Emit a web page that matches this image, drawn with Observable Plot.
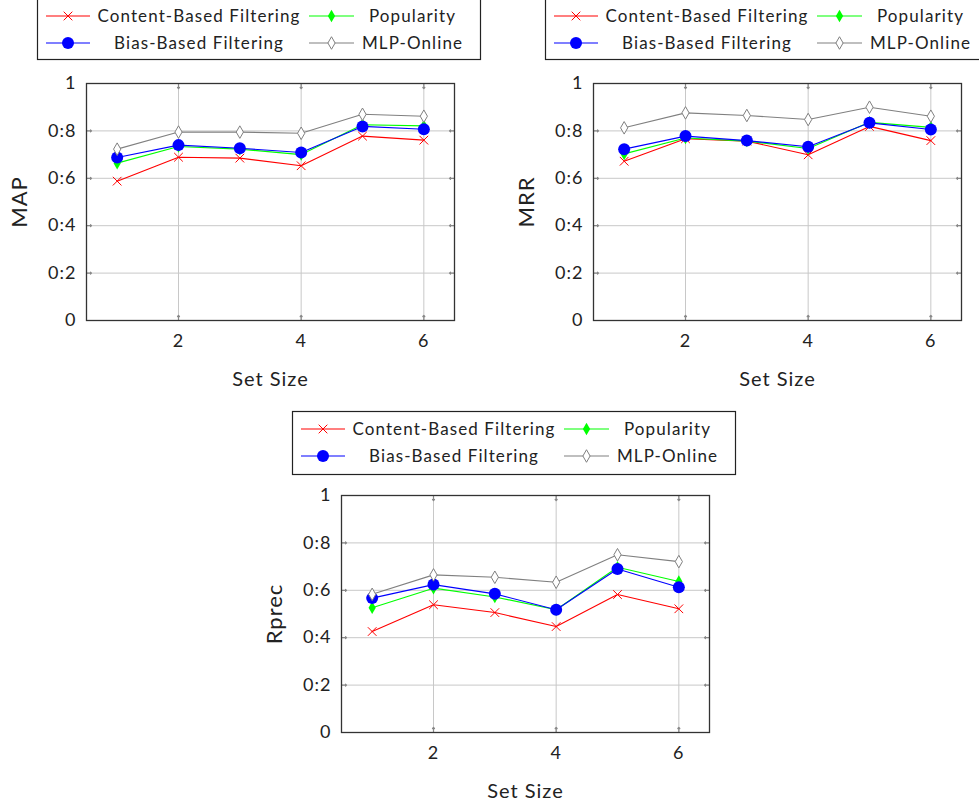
<!DOCTYPE html>
<html>
<head>
<meta charset="utf-8">
<script src="https://cdn.jsdelivr.net/npm/d3@7"></script>
<script src="https://cdn.jsdelivr.net/npm/@observablehq/plot@0.6"></script>
<style>
  html, body { margin: 0; padding: 0; background: #fff; }
  #root { position: relative; width: 979px; height: 807px; overflow: hidden; background: #fff; }
  .panel, .legend { position: absolute; }
</style>
</head>
<body>
<div id="root"></div>
<script>
// ---------- data ----------
const setSizes = [1, 2, 3, 4, 5, 6];
const seriesNames = ["Content-Based Filtering", "Popularity", "Bias-Based Filtering", "MLP-Online"];
const seriesColors = ["#ff0000", "#00ff00", "#0000ff", "#808080"];

const mapCBF  = [0.588, 0.689, 0.685, 0.653, 0.778, 0.761];
const mapPop  = [0.664, 0.734, 0.723, 0.700, 0.826, 0.821];
const mapBias = [0.688, 0.740, 0.727, 0.709, 0.819, 0.807];
const mapMLP  = [0.723, 0.795, 0.795, 0.790, 0.870, 0.862];

const mrrCBF  = [0.672, 0.767, 0.757, 0.699, 0.819, 0.759];
const mrrPop  = [0.703, 0.770, 0.757, 0.726, 0.836, 0.815];
const mrrBias = [0.723, 0.778, 0.759, 0.733, 0.834, 0.806];
const mrrMLP  = [0.813, 0.876, 0.865, 0.848, 0.900, 0.862];

const rprecCBF  = [0.426, 0.539, 0.506, 0.447, 0.582, 0.522];
const rprecPop  = [0.526, 0.609, 0.572, 0.518, 0.697, 0.637];
const rprecBias = [0.567, 0.624, 0.585, 0.518, 0.690, 0.613];
const rprecMLP  = [0.583, 0.665, 0.655, 0.634, 0.750, 0.721];

const xTicks = [2, 4, 6];
const yTicks = [0, 0.2, 0.4, 0.6, 0.8, 1];
const yTickLabels = ["0", "0:2", "0:4", "0:6", "0:8", "1"];
const xLabel = "Set Size";

// ---------- style ----------
const FONT = "Lato, 'Open Sans', sans-serif";
const symbols = ["times", "diamond", "circle", "diamond"];
const symbolR = [4, 3.8, 6, 3.8];
const symbolFill = ["none", seriesColors[1], seriesColors[2], "white"];
const symbolStroke = [seriesColors[0], seriesColors[1], seriesColors[2], seriesColors[3]];

const root = document.getElementById("root");

function makePanel({left, top, width, height, mL, mR, mT, mB, yLabel, values}) {
  const rows = [];
  values.forEach((arr, s) => arr.forEach((v, i) => rows.push({series: seriesNames[s], s, x: setSizes[i], y: v})));
  const marks = [
    Plot.gridX(xTicks, {stroke: "#c8c8c8", strokeOpacity: 1, strokeWidth: 1}),
    Plot.gridY(yTicks.slice(1, -1), {stroke: "#c8c8c8", strokeOpacity: 1, strokeWidth: 1}),
    // inward tick marks on all four sides
    Plot.vector(xTicks, {x: d => d, frameAnchor: "bottom", length: 5, anchor: "start", rotate: 0, stroke: "#888", strokeWidth: 1.2}),
    Plot.vector(xTicks, {x: d => d, frameAnchor: "top", length: 5, anchor: "start", rotate: 180, stroke: "#888", strokeWidth: 1.2}),
    Plot.vector(yTicks.slice(1, -1), {y: d => d, frameAnchor: "left", length: 5, anchor: "start", rotate: 90, stroke: "#888", strokeWidth: 1.2}),
    Plot.vector(yTicks.slice(1, -1), {y: d => d, frameAnchor: "right", length: 5, anchor: "start", rotate: -90, stroke: "#888", strokeWidth: 1.2}),
    Plot.frame({stroke: "#333", strokeWidth: 1.3}),
    Plot.axisX(xTicks, {anchor: "bottom", tickSize: 0, tickPadding: 14, label: null, fontSize: 18, fill: "#222"}),
    Plot.axisY(yTicks, {anchor: "left", tickSize: 0, tickPadding: 10, label: null, fontSize: 18, fill: "#222",
      tickFormat: d => yTickLabels[yTicks.indexOf(d)]}),
    Plot.text([yLabel], {frameAnchor: "left", textAnchor: "middle", lineAnchor: "middle", rotate: -90, dx: -67,
      fontSize: 22, fill: "#222", letterSpacing: "2px"}),
    Plot.text([xLabel], {frameAnchor: "bottom", textAnchor: "middle", lineAnchor: "middle", dy: 59,
      fontSize: 20, fill: "#222"})
  ];
  for (let s = 0; s < 4; s++) {
    const d = rows.filter(r => r.s === s);
    marks.push(Plot.line(d, {x: "x", y: "y", stroke: seriesColors[s], strokeWidth: 1.1}));
    marks.push(Plot.dot(d, {x: "x", y: "y", symbol: symbols[s], r: symbolR[s],
      fill: symbolFill[s], stroke: symbolStroke[s], strokeWidth: s === 1 || s === 2 ? 0 : 1}));
  }
  const svg = Plot.plot({
    width, height,
    marginLeft: mL, marginRight: mR, marginTop: mT, marginBottom: mB,
    x: {domain: [0.5, 6.5], axis: null},
    y: {domain: [0, 1], axis: null},
    style: {fontFamily: FONT, background: "transparent", overflow: "visible", letterSpacing: "1px"},
    marks
  });
  svg.classList.add("panel");
  svg.style.left = left + "px";
  svg.style.top = top + "px";
  root.appendChild(svg);
}

function makeLegend(left, top, rowOffset) {
  const W = 443, H = 63;
  const svg = d3.create("svg").attr("class", "legend").attr("width", W + 2).attr("height", H + 2)
    .style("left", left + "px").style("top", top + "px").style("font-family", FONT)
    .style("letter-spacing", "1.1px").style("overflow", "visible");
  svg.append("rect").attr("x", 0.5).attr("y", 0.5).attr("width", W).attr("height", H)
    .attr("fill", "white").attr("stroke", "#222").attr("stroke-width", 1.2);
  const rowY = [rowOffset, rowOffset + 27];
  const lineX = [[9, 53], [272, 317]];
  const textX = [162, 375.5];
  const pos = [[0, 0], [0, 1], [1, 0], [1, 1]];
  const symMap = {times: d3.symbolTimes, diamond: d3.symbolDiamond, circle: d3.symbolCircle};
  seriesNames.forEach((name, s) => {
    const [r, c] = pos[s];
    const y = rowY[r];
    const [x1, x2] = lineX[c];
    svg.append("line").attr("x1", x1).attr("x2", x2).attr("y1", y).attr("y2", y)
      .attr("stroke", seriesColors[s]).attr("stroke-width", 1.1);
    const size = Math.PI * symbolR[s] * symbolR[s];
    svg.append("path").attr("d", d3.symbol(symMap[symbols[s]], size)())
      .attr("transform", `translate(${(x1 + x2) / 2},${y})`)
      .attr("fill", symbolFill[s]).attr("stroke", symbolStroke[s])
      .attr("stroke-width", s === 1 || s === 2 ? 0 : 1);
    svg.append("text").attr("x", textX[c]).attr("y", y).attr("dy", "0.35em")
      .attr("text-anchor", "middle").attr("font-size", 17).attr("fill", "#222").text(name);
  });
  root.appendChild(svg.node());
}

makeLegend(37, -4, 20);
makeLegend(545, -4, 20);
makeLegend(292, 411, 18);

makePanel({left: 0, top: 62, width: 490, height: 340, mL: 86, mR: 36, mT: 21, mB: 82, yLabel: "MAP",
  values: [mapCBF, mapPop, mapBias, mapMLP]});
makePanel({left: 507, top: 62, width: 472, height: 340, mL: 86, mR: 18, mT: 21, mB: 82, yLabel: "MRR",
  values: [mrrCBF, mrrPop, mrrBias, mrrMLP]});
makePanel({left: 255, top: 474, width: 490, height: 333, mL: 86, mR: 36, mT: 21, mB: 75, yLabel: "Rprec",
  values: [rprecCBF, rprecPop, rprecBias, rprecMLP]});
</script>
</body>
</html>
